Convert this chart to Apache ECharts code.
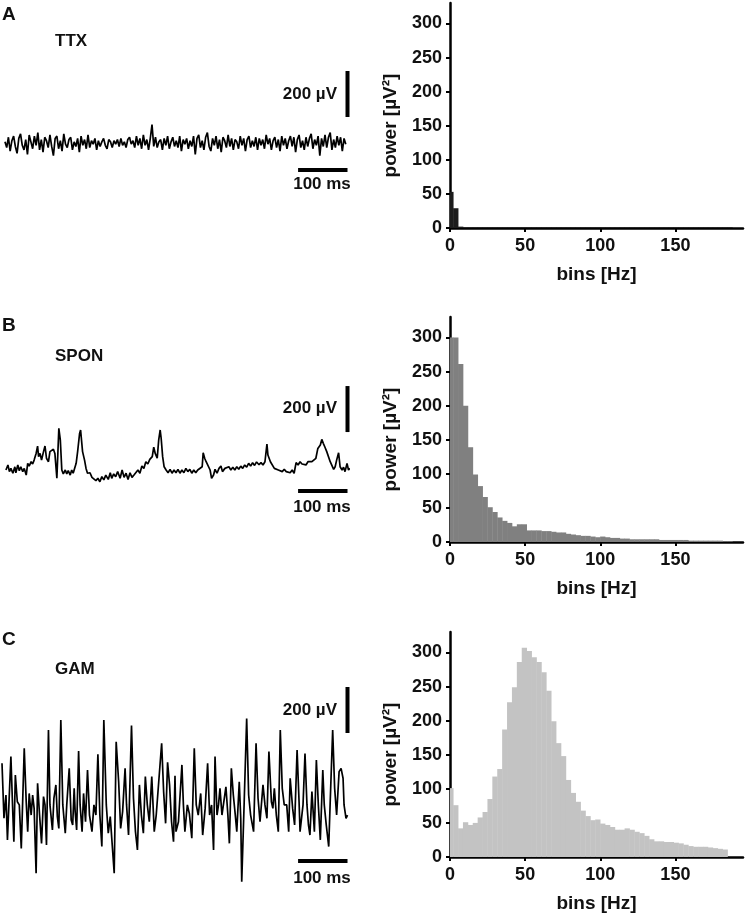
<!DOCTYPE html>
<html><head><meta charset="utf-8">
<script src="https://cdn.jsdelivr.net/npm/echarts/dist/echarts.min.js"></script>
<style>html,body{margin:0;padding:0;background:#fff}#c{width:746px;height:917px}</style>
</head><body><div id="c"></div>
<script>
// ---------------- data ----------------
const panelLetters = ['A', 'B', 'C'];
const conditions = ['TTX', 'SPON', 'GAM'];
const ampScaleLabel = '200 µV';
const timeScaleLabel = '100 ms';
const ampScale = 200;   // µV
const timeScale = 100;  // ms
const freqAxisName = 'bins [Hz]';
const powerAxisName = 'power [µV²]';
const freqTicks = [0, 50, 100, 150];
const powerTicks = [0, 50, 100, 150, 200, 250, 300];

// power spectrum bins (Hz)
const binStartHz = -1.16;
const binWidthHz = 3.26;
const powerTTX = [53, 29, 2, 1, 1, 1, 1, 1, 1, 1, 1, 1, 1, 1, 1, 1, 1, 1, 1, 1,
  1, 1, 1, 1, 1, 1, 1, 1, 1, 1, 1, 1, 1, 1, 1, 1, 1, 1, 1, 1,
  1, 1, 1, 1, 1, 1, 1, 1, 1, 1, 1, 1, 1, 1, 1, 1, 1, 1];
const powerSPON = [300, 300, 261, 200, 139, 99, 82, 66, 51, 44, 36, 31, 28, 23, 26, 26, 17, 17, 17, 16,
  16, 15, 14, 14, 12, 11, 10, 9, 9, 8, 7, 8, 7, 6, 6, 5, 5, 4, 4, 4,
  4, 4, 4, 3, 3, 3, 3, 3, 3, 2, 2, 2, 2, 2, 2, 2, 1, 1];
const powerGAM = [101, 76, 42, 51, 47, 50, 58, 66, 85, 118, 129, 187, 227, 249, 286, 307, 302, 293, 286, 271,
  244, 199, 167, 148, 113, 94, 81, 68, 60, 54, 55, 49, 47, 44, 40, 40, 42, 40, 37, 35,
  31, 26, 23, 23, 22, 22, 21, 20, 18, 16, 15, 15, 15, 14, 13, 12, 11];

// LFP traces (ms, µV)
const ttxStartMs = 6, ttxSampleMs = 3.5;
const ttxV = [5, -20, 25, -35, 10, 30, -15, -45, 20, 40, -10, -30, 15, -50, 35, 5, -25, 30,
  -10, 45, -30, 15, -40, 25, 10, -20, 35, -15, -55, 20, 30, -25, 10, -35, 40, -5,
  -20, 15, 25, -30, 5, -15, 20, -40, 30, -10, 15, -25, 35, -20, 10, -5, 20, -30,
  10, -15, 5, 20, -10, -25, 15, 5, -20, 10, -5, 15, -15, 20, -10, 5, -20, 15,
  25, -5, 10, -20, 30, -10, 20, -25, 35, -10, 15, -30, 20, 80, -15, 25, -20, 5,
  15, -30, 20, -10, 30, -25, 5, 25, -15, 10, -20, 30, -35, 15, -5, 20, -25, 10,
  -15, 30, -50, 20, 35, -20, 10, -30, 25, 45, -15, -35, 20, -10, 30, -25, 15, -40,
  25, 10, -20, 35, -15, 20, -30, 15, 5, -25, 30, -10, 20, -35, 15, 30, -20, 10,
  -15, 25, -30, 20, -10, 15, -25, 35, -5, 20, -30, 10, 25, -20, 15, -35, 30, -10,
  20, -25, 10, 30, -15, 25, -40, 15, 35, -20, 10, -30, 25, -15, 20, 40, -25, 15,
  -10, 30, -55, 20, -15, 35, -20, 25, 45, -30, 15, -20, 30, -10, 25, -35, 20, -5];

const sponT = [8, 12, 15, 18, 22, 26, 28, 32, 35, 38, 42, 45, 49, 52, 55, 59, 62, 65, 69, 72,
  74, 77, 80, 84, 87, 90, 94, 97, 100, 104, 107, 111, 113, 115, 118, 121, 124, 128, 131, 134,
  138, 141, 144, 150, 153, 157, 159, 163, 167, 170, 173, 178, 182, 186, 190, 194, 198, 202, 206, 210,
  215, 219, 222, 226, 230, 234, 239, 243, 247, 251, 255, 259, 263, 267, 271, 275, 279, 283, 287, 291,
  295, 299, 304, 307, 310, 314, 317, 320, 322, 325, 328, 332, 336, 340, 344, 348, 352, 356, 360, 364,
  368, 372, 376, 380, 384, 388, 392, 396, 400, 405, 407, 410, 413, 417, 421, 424, 428, 431, 435, 439,
  443, 446, 451, 455, 459, 463, 467, 471, 475, 479, 483, 487, 491, 495, 499, 503, 507, 511, 515, 520,
  524, 528, 532, 536, 538, 543, 547, 551, 555, 559, 563, 567, 571, 575, 579, 583, 587, 591, 595, 599,
  603, 607, 611, 615, 619, 623, 627, 631, 635, 639, 644, 647, 650, 653, 657, 660, 664, 667, 671, 674,
  677, 681, 684, 688, 691, 694, 698, 701, 704];
const sponV = [0, 22, -7, 7, -14, 14, -12, 22, -3, 14, -7, 7, -22, 29, 17, 36, 26, 43, 72, 104,
  58, 72, 43, 80, 104, 51, 36, 80, 72, 90, 72, -36, 72, 181, 130, 0, -17, 0, -17, -3,
  -22, 0, -14, 29, 80, 159, 174, 80, 43, 7, -14, -12, -32, -26, -46, -36, -51, -29, -43, -22,
  -41, -12, -36, -17, -29, -7, -36, 0, -32, -14, -41, -12, -32, -22, -29, 0, -14, 17, 7, 36,
  26, 46, 58, 99, 72, 51, 130, 174, 138, 58, 14, 0, -12, 3, -14, 0, -12, 3, -14, 0,
  -12, 7, -7, 3, -14, 0, -12, 0, -7, 14, 75, 51, 36, 32, 0, -36, -22, 3, -14, 7,
  17, -7, 7, 0, 14, 0, 12, 0, 14, 3, 17, 7, 22, 12, 29, 17, 32, 20, 35, 23,
  32, 22, 36, 113, 65, 36, 43, 7, 14, 0, 7, -7, 3, -7, 0, -12, 0, -14, 32, 22,
  36, 26, 32, 22, 36, 29, 36, 32, 51, 94, 109, 133, 116, 101, 80, 72, 36, 29, 3, 14,
  43, 75, 14, 0, 12, -7, 29, 0, 7];

const gamT = [0, 4, 8, 11, 18, 22, 24, 27, 31, 35, 39, 45, 49, 52, 55, 59, 62, 65, 69, 72,
  76, 80, 84, 87, 90, 94, 97, 102, 105, 109, 112, 115, 119, 123, 128, 131, 136, 140, 143, 146,
  148, 151, 155, 158, 162, 165, 169, 173, 177, 182, 186, 190, 194, 198, 202, 206, 211, 215, 219, 223,
  227, 231, 236, 240, 244, 249, 252, 256, 262, 266, 270, 274, 278, 282, 286, 290, 294, 298, 303, 308,
  312, 316, 323, 327, 331, 335, 339, 343, 347, 350, 352, 357, 364, 367, 370, 375, 379, 384, 389, 393,
  397, 402, 406, 411, 416, 420, 424, 428, 431, 435, 438, 441, 445, 449, 453, 457, 460, 464, 468, 472,
  475, 480, 483, 485, 490, 495, 499, 503, 509, 514, 518, 522, 528, 532, 536, 540, 545, 548, 551, 555,
  559, 563, 567, 571, 576, 580, 583, 588, 592, 597, 601, 603, 609, 613, 617, 620, 623, 627, 632, 636,
  640, 644, 649, 652, 656, 661, 664, 669, 673, 677, 682, 686, 690, 692, 696, 699];
const gamV = [190, -49, 52, -143, 219, -35, -151, 139, 23, 9, -180, 255, 23, -107, 59, -35, 52, -6, -288, 103,
  -35, -158, 45, 9, -165, 335, 9, -100, 38, 96, -42, -93, 378, 9, -114, 9, 168, -57, -78, 81,
  -20, -100, 243, 9, -107, 59, -64, 161, -35, -107, 9, -35, 229, -35, -172, 378, 9, -114, -42, -35,
  -288, 284, 110, -93, -20, 168, 9, -122, 354, 38, -107, -187, 96, -35, -114, 132, 9, -64, 132, -107,
  -35, -35, 277, 67, -71, 194, 96, -64, -151, 136, -107, -64, 183, 9, -107, 9, -28, -136, 255, 9,
  -35, 59, -122, -6, 190, -35, 9, -187, 219, -35, 9, 81, -35, -35, 88, -35, -158, 168, 52, -35,
  -107, 110, -49, -325, 23, 385, 52, -35, -107, 277, 38, -64, 96, 9, -49, 241, 23, -6, 81, -35,
  -107, 335, 81, 9, 9, -107, 125, -6, -78, 248, 23, -107, 9, 233, 9, -78, -122, 67, -107, 204,
  9, -143, 161, 9, -78, -172, 23, 335, 81, -35, 154, 168, 125, 9, -49, -35];

// ---------------- layout ----------------
const FONT = '"Liberation Sans", Arial, Helvetica, sans-serif';
const traceTops = [16.5, 343.5, 680.5];
const histTops = [3, 317, 632];
const histColors = ['#1c1c1c', '#808080', '#c3c3c3'];
const barX = 699;
const vBarLow = [113, 165, 322];
const hBarY = [-117, -91, -235];

const ttxPairs = ttxV.map((v, i) => [ttxStartMs + i * ttxSampleMs, v]);
const sponPairs = sponT.map((t, i) => [t, sponV[i]]);
const gamPairs = gamT.map((t, i) => [t, gamV[i]]);
const tracePairs = [ttxPairs, sponPairs, gamPairs];
const powers = [powerTTX, powerSPON, powerGAM];

const grids = [], xAxes = [], yAxes = [], series = [], graphics = [];
const labelStyle = { color: '#111', fontSize: 18, fontWeight: 'bold', fontFamily: FONT };
const nameStyle = { color: '#111', fontSize: 19, fontWeight: 'bold', fontFamily: FONT };
const axisLineStyle = { show: true, onZero: false, lineStyle: { color: '#000', width: 2.5 } };

for (let p = 0; p < 3; p++) {
  grids.push({ left: 2, width: 346, top: traceTops[p], height: 218.5 });
  xAxes.push({ type: 'value', gridIndex: 2 * p, min: 0, max: 700, show: false });
  yAxes.push({ type: 'value', gridIndex: 2 * p, min: -400, max: 550, show: false });

  grids.push({ left: 450, width: 293, top: histTops[p], height: 225 });
  xAxes.push({
    type: 'value', gridIndex: 2 * p + 1, min: 0, max: 195,
    axisLine: axisLineStyle,
    axisTick: { show: true, length: 4, customValues: freqTicks, lineStyle: { color: '#000', width: 2 } },
    axisLabel: Object.assign({ margin: 9, customValues: freqTicks }, labelStyle),
    splitLine: { show: false },
    name: freqAxisName, nameLocation: 'middle', nameGap: 37, nameTextStyle: nameStyle
  });
  yAxes.push({
    type: 'value', gridIndex: 2 * p + 1, min: 0, max: 330,
    axisLine: axisLineStyle,
    axisTick: { show: true, length: 4, customValues: powerTicks, lineStyle: { color: '#000', width: 2 } },
    axisLabel: Object.assign({ margin: 8, customValues: powerTicks }, labelStyle),
    splitLine: { show: false },
    name: powerAxisName, nameLocation: 'middle', nameGap: 50,
    nameTextStyle: Object.assign({ padding: [0, 20, 0, 0] }, nameStyle)
  });

  series.push({
    type: 'line', xAxisIndex: 2 * p, yAxisIndex: 2 * p, data: tracePairs[p],
    showSymbol: false, symbol: 'none', clip: false, animation: false,
    lineStyle: { color: '#000', width: 1.7 }
  });
  series.push({
    type: 'line', xAxisIndex: 2 * p, yAxisIndex: 2 * p,
    data: [[barX, vBarLow[p]], [barX, vBarLow[p] + ampScale]],
    showSymbol: false, symbol: 'none', clip: false, animation: false,
    lineStyle: { color: '#000', width: 4, cap: 'butt' }
  });
  series.push({
    type: 'line', xAxisIndex: 2 * p, yAxisIndex: 2 * p,
    data: [[barX - timeScale, hBarY[p]], [barX, hBarY[p]]],
    showSymbol: false, symbol: 'none', clip: false, animation: false,
    lineStyle: { color: '#000', width: 4, cap: 'butt' }
  });
  const color = histColors[p];
  series.push({
    type: 'custom', xAxisIndex: 2 * p + 1, yAxisIndex: 2 * p + 1, animation: false,
    data: powers[p].map((v, k) => [binStartHz + (k + 0.5) * binWidthHz, v]),
    encode: { x: 0, y: 1 },
    renderItem: function (params, api) {
      const c = api.value(0), v = api.value(1);
      const p0 = api.coord([c - binWidthHz / 2, 0]);
      const p1 = api.coord([c + binWidthHz / 2, v]);
      const cs = params.coordSys;
      const rect = echarts.graphic.clipRectByRect(
        { x: p0[0], y: p1[1], width: p1[0] - p0[0] + 0.4, height: p0[1] - p1[1] },
        { x: cs.x, y: cs.y, width: cs.width, height: cs.height });
      if (!rect) return null;
      return { type: 'rect', shape: rect, style: { fill: color } };
    }
  });
}

const letterY = [15, 326, 640];
const condY = [41, 356, 669];
const ampLabelY = [94, 408, 710];
const timeLabelY = [184, 507, 878];
for (let p = 0; p < 3; p++) {
  graphics.push({ type: 'text', x: 2, y: letterY[p], style: { text: panelLetters[p], font: 'bold 19px ' + FONT, fill: '#111', textAlign: 'left', textVerticalAlign: 'middle' } });
  graphics.push({ type: 'text', x: 55, y: condY[p], style: { text: conditions[p], font: 'bold 17px ' + FONT, fill: '#111', textAlign: 'left', textVerticalAlign: 'middle' } });
  graphics.push({ type: 'text', x: 337, y: ampLabelY[p], style: { text: ampScaleLabel, font: 'bold 17px ' + FONT, fill: '#111', textAlign: 'right', textVerticalAlign: 'middle' } });
  graphics.push({ type: 'text', x: 322, y: timeLabelY[p], style: { text: timeScaleLabel, font: 'bold 17px ' + FONT, fill: '#111', textAlign: 'center', textVerticalAlign: 'middle' } });
}

const chart = echarts.init(document.getElementById('c'), null, { renderer: 'canvas' });
chart.setOption({
  animation: false,
  backgroundColor: '#fff',
  grid: grids, xAxis: xAxes, yAxis: yAxes, series: series, graphic: graphics
});
</script></body></html>
